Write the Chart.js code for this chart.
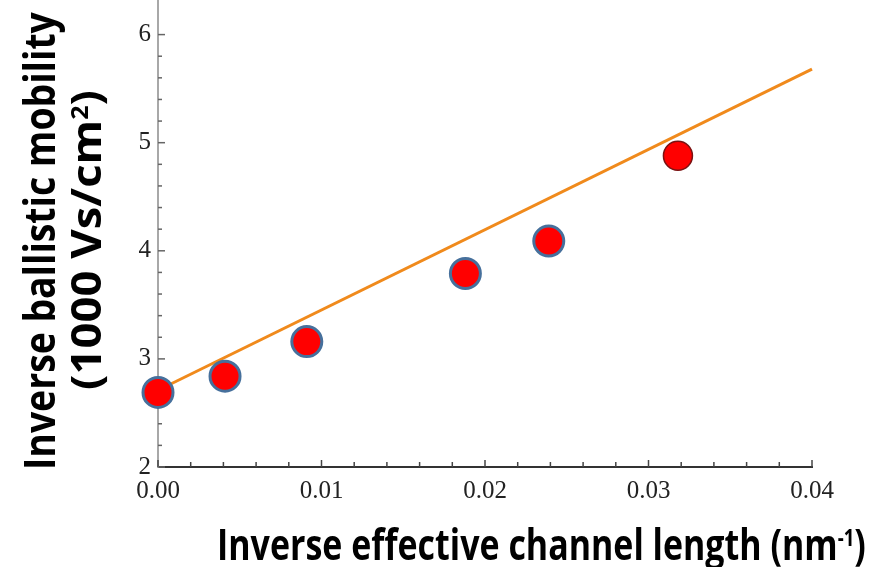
<!DOCTYPE html>
<html>
<head>
<meta charset="utf-8">
<script src="https://cdn.jsdelivr.net/npm/chart.js@4"></script>
<style>
  html, body { margin: 0; padding: 0; background: #fff; }
  #wrap { width: 881px; height: 567px; }
</style>
</head>
<body>
<div id="wrap"><canvas id="c" width="881" height="567"></canvas></div>
<script>
// Measured inverse ballistic mobility against inverse effective channel length
const invLength   = [0.0000, 0.0041, 0.0091, 0.0188, 0.0239, 0.0318]; // nm^-1
const invMobility = [2.69, 2.84, 3.16, 3.79, 4.09, 4.88];             // 1000 Vs/cm^2

// End points of the linear fit
const fitLength   = [0.00, 0.04];
const fitMobility = [2.71, 5.68];

// Labelled ticks
const xTickLabels = ['0.00', '0.01', '0.02', '0.03', '0.04'];
const yTickLabels = ['2', '3', '4', '5', '6'];

// Axis titles, as runs of [text, superscript?]
const xTitle  = [['Inverse effective channel length (nm', false], ['-1', true], [')', false]];
const yTitle1 = [['Inverse ballistic mobility', false]];
const yTitle2 = [['(1000 Vs/cm', false], ['2', true], [')', false]];

const titleFamily = '"Open Sans", "Noto Sans", sans-serif';
const tickFont = { family: '"Liberation Serif", "Times New Roman", serif', size: 25 };

const near = (v, step) => Math.abs(v / step - Math.round(v / step)) < 1e-6;

// Bold title text, fitted to a run length and a cap height
function drawStretched(ctx, segs, cx, cy, length, capH, angle) {
  const B = 100, SUP = 0.55;
  const fontAt = (s, sup) => `bold ${sup ? s * SUP : s}px ${titleFamily}`;
  let w = 0;
  segs.forEach(([t, sup]) => { ctx.font = fontAt(B, sup); w += ctx.measureText(t).width; });
  const size = B * length / w;
  const sy = capH / (0.714 * size);
  ctx.save();
  ctx.translate(cx, cy);
  ctx.rotate(angle);
  ctx.scale(1, sy);
  ctx.fillStyle = '#000';
  ctx.textAlign = 'left';
  ctx.textBaseline = 'alphabetic';
  const base = (capH / 2) / sy;
  let x = -length / 2;
  segs.forEach(([t, sup]) => {
    ctx.font = fontAt(size, sup);
    ctx.fillText(t, x, sup ? base - 0.714 * (1 - SUP) * size : base);
    x += ctx.measureText(t).width;
  });
  ctx.restore();
}

// Tick marks pointing into the plot area
const innerTicks = {
  id: 'innerTicks',
  beforeDatasetsDraw(chart) {
    const { ctx, scales: { x, y } } = chart;
    ctx.save();
    ctx.lineWidth = 1.5;
    ctx.strokeStyle = '#444';
    x.ticks.forEach(t => {
      if (!near(t.value, 0.002)) return;
      const px = x.getPixelForValue(t.value);
      const len = near(t.value, 0.01) ? 7 : 5;
      ctx.beginPath(); ctx.moveTo(px, x.top); ctx.lineTo(px, x.top - len); ctx.stroke();
    });
    ctx.strokeStyle = '#666';
    y.ticks.forEach(t => {
      if (!near(t.value, 0.2)) return;
      const py = y.getPixelForValue(t.value);
      const len = near(t.value, 1) ? 7 : 4;
      ctx.beginPath(); ctx.moveTo(y.right, py); ctx.lineTo(y.right + len, py); ctx.stroke();
    });
    ctx.restore();
  }
};

const axisTitles = {
  id: 'axisTitles',
  afterDraw(chart) {
    const ctx = chart.ctx, ca = chart.chartArea;
    drawStretched(ctx, xTitle, ca.left + 383.5, ca.bottom + 77.5, 649, 31, 0);
    drawStretched(ctx, yTitle1, ca.left - 118.5, ca.top + 241, 458, 31, -Math.PI / 2);
    drawStretched(ctx, yTitle2, ca.left - 71.5, ca.top + 240, 300, 29, -Math.PI / 2);
  }
};

const lastIdx = invLength.length - 1;

new Chart(document.getElementById('c'), {
  type: 'scatter',
  data: {
    datasets: [
      {
        label: 'Measured',
        data: invLength.map((x, i) => ({ x, y: invMobility[i] })),
        backgroundColor: '#ff0000',
        borderColor: c => c.dataIndex === lastIdx ? '#7a1212' : '#46709c',
        borderWidth: c => c.dataIndex === lastIdx ? 1.5 : 3,
        pointRadius: c => c.dataIndex === lastIdx ? 14.5 : 15,
        pointHoverRadius: c => c.dataIndex === lastIdx ? 14.5 : 15,
        clip: false,
        order: 0
      },
      {
        label: 'Linear fit',
        data: fitLength.map((x, i) => ({ x, y: fitMobility[i] })),
        showLine: true,
        borderColor: '#f08a1c',
        borderWidth: 3,
        pointRadius: 0,
        pointHoverRadius: 0,
        fill: false,
        clip: false,
        order: 1
      }
    ]
  },
  options: {
    responsive: false,
    animation: false,
    devicePixelRatio: 1,
    layout: { autoPadding: false, padding: { left: 0, right: 69, top: 0, bottom: 0 } },
    plugins: { legend: { display: false }, tooltip: { enabled: false } },
    scales: {
      x: {
        type: 'linear',
        min: 0,
        max: 0.04,
        afterFit: s => { s.height = 100; s.paddingLeft = 0; s.paddingRight = 0; },
        border: { display: true, color: '#333', width: 2 },
        grid: { display: true, drawOnChartArea: false, drawTicks: false },
        ticks: {
          stepSize: 0.002,
          autoSkip: false,
          maxRotation: 0,
          padding: 9,
          color: '#222',
          font: tickFont,
          callback: v => near(v, 0.01) ? xTickLabels[Math.round(v / 0.01)] : ''
        }
      },
      y: {
        type: 'linear',
        min: 2,
        max: 6.32,
        afterFit: s => { s.width = 158; s.paddingTop = 0; s.paddingBottom = 0; },
        border: { display: true, color: '#a8a8a8', width: 2 },
        grid: { display: true, drawOnChartArea: false, drawTicks: false },
        ticks: {
          stepSize: 0.2,
          autoSkip: false,
          padding: 7,
          color: '#222',
          font: tickFont,
          callback: v => near(v, 1) ? yTickLabels[Math.round(v) - 2] : ''
        }
      }
    }
  },
  plugins: [innerTicks, axisTitles]
});
</script>
</body>
</html>
